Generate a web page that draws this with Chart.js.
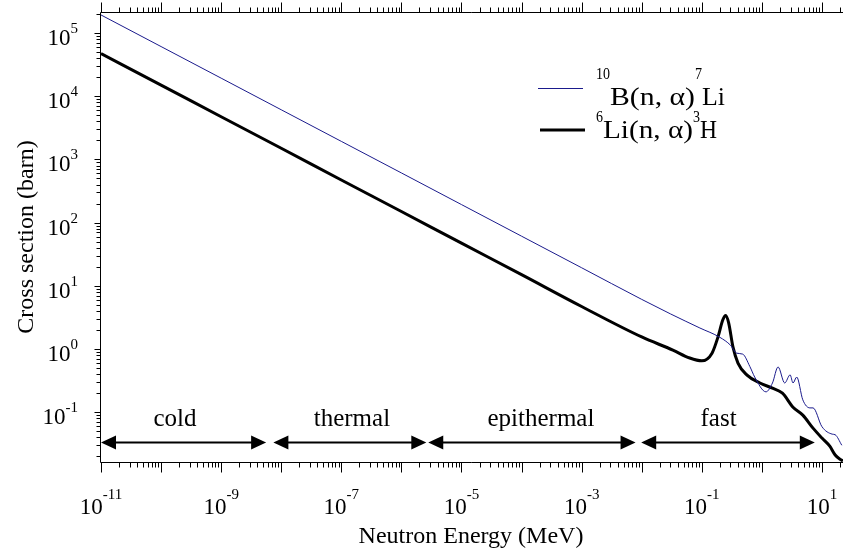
<!DOCTYPE html>
<html>
<head>
<meta charset="utf-8">
<script src="https://cdn.jsdelivr.net/npm/chart.js@4.4.1/dist/chart.umd.min.js"></script>
<style>
  html, body { margin: 0; padding: 0; background: #fff; }
  #wrap { width: 843px; height: 554px; }
</style>
</head>
<body>
<div id="wrap"><canvas id="xsChart" width="843" height="554"></canvas></div>
<script>
// 10B(n,α)7Li の断面積 (MeV, barn)
const boronEnergy = [1e-11, 1e-10, 1e-9, 1e-8, 1e-7, 1e-6, 1e-5, 1e-4, 1e-3, 1e-2, 3e-2,
  0.093, 0.2, 0.3, 0.38, 0.48, 0.63, 0.76, 1.17, 1.5, 1.86, 2.4, 2.95, 3.3, 3.8,
  4.8, 6.3, 7.1, 10, 14.8, 16.6, 21.4];
const boronXS = [1.93e5, 6.1e4, 1.93e4, 6.1e3, 1.93e3, 611, 193, 61, 19.3, 6.1, 3.6,
  2.15, 1.53, 1.15, 0.86, 0.83, 0.53, 0.36, 0.21, 0.29, 0.52, 0.29, 0.39, 0.29, 0.36,
  0.157, 0.117, 0.117, 0.059, 0.045, 0.044, 0.030];

// 6Li(n,α)3H の断面積 (MeV, barn)
const lithiumEnergy = [1e-11, 1e-10, 1e-9, 1e-8, 1e-7, 1e-6, 1e-5, 1e-4, 1e-3, 1e-2,
  0.033, 0.063, 0.1, 0.148, 0.186, 0.224, 0.25, 0.28, 0.33, 0.4, 0.56, 0.93, 1.5,
  2.2, 3.3, 4.8, 7.1, 10, 13.5, 16.6, 20, 22.4];
const lithiumXS = [4.73e4, 1.5e4, 4.73e3, 1.5e3, 473, 150, 47.3, 15, 4.7, 1.55,
  0.96, 0.72, 0.65, 0.86, 1.55, 2.9, 3.4, 2.6, 1.08, 0.6, 0.39, 0.29, 0.24,
  0.2, 0.12, 0.09, 0.056, 0.039, 0.029, 0.021, 0.018, 0.017];

// 軸の目盛りラベル (10 のべき)
const xTickPowers = [-11, -9, -7, -5, -3, -1, 1];
const yTickPowers = [-1, 0, 1, 2, 3, 4, 5];

// エネルギー領域の矢印
const regionNames = ['cold', 'thermal', 'epithermal', 'fast'];
const regionFrom = [1e-11, 7.4e-9, 2.8e-6, 9.8e-3];
const regionTo = [5.6e-9, 2.6e-6, 7.9e-3, 7.6];
const regionLabelAt = [1.7e-10, 1.5e-7, 2.1e-4, 0.19];
const arrowLevel = 0.0336;
const regionLabelLevel = 0.06;

const X_MIN = 1e-11, X_MAX = 22.4;
const Y_MIN = 0.0163, Y_MAX = 2.15e5;

const SERIF = "'Liberation Serif', 'DejaVu Serif', serif";
const BLUE = '#1a1a8c';

// テキストを指定幅に合わせて描画
function drawFit(ctx, text, x, y, size, width) {
  ctx.font = size + 'px ' + SERIF;
  const w = ctx.measureText(text).width;
  ctx.save();
  ctx.translate(x, y);
  if (width) ctx.scale(width / w, 1);
  ctx.fillText(text, 0, 0);
  ctx.restore();
}

function powWidth(ctx, exp) {
  ctx.font = '23px ' + SERIF;
  const w1 = ctx.measureText('10').width;
  ctx.font = '15px ' + SERIF;
  const w2 = ctx.measureText(exp).width;
  return [w1, w2];
}

function drawPow(ctx, exp, left, base, supBase) {
  const [w1] = powWidth(ctx, exp);
  ctx.font = '23px ' + SERIF;
  ctx.fillText('10', left, base);
  ctx.font = '15px ' + SERIF;
  ctx.fillText(exp, left + w1, supBase);
}

function drawArrow(ctx, x1, x2, y) {
  const head = 15, half = 7;
  ctx.lineWidth = 2;
  ctx.beginPath();
  ctx.moveTo(x1 + head - 1, y);
  ctx.lineTo(x2 - head + 1, y);
  ctx.stroke();
  ctx.beginPath();
  ctx.moveTo(x1, y);
  ctx.lineTo(x1 + head, y - half);
  ctx.lineTo(x1 + head, y + half);
  ctx.closePath();
  ctx.fill();
  ctx.beginPath();
  ctx.moveTo(x2, y);
  ctx.lineTo(x2 - head, y - half);
  ctx.lineTo(x2 - head, y + half);
  ctx.closePath();
  ctx.fill();
}

const decorPlugin = {
  id: 'decor',
  afterDraw(chart) {
    const ctx = chart.ctx;
    const xs = chart.scales.x, ys = chart.scales.y;
    const area = chart.chartArea;
    const L = Math.round(area.left) - 0.5;
    const T = Math.round(area.top) + 0.5;
    const B = Math.round(area.bottom) + 0.5;
    ctx.save();
    ctx.strokeStyle = '#000';
    ctx.fillStyle = '#000';
    ctx.lineWidth = 1;

    // 軸線 (左・下・上)
    ctx.beginPath();
    ctx.moveTo(L, T);
    ctx.lineTo(L, B);
    ctx.moveTo(L, B);
    ctx.lineTo(area.right, B);
    ctx.moveTo(L, T);
    ctx.lineTo(area.right, T);
    ctx.stroke();

    // X軸の目盛り (下と上)
    ctx.beginPath();
    for (let d = -11; d <= 1; d++) {
      for (let m = 1; m <= 9; m++) {
        const v = m * Math.pow(10, d);
        if (v > X_MAX) continue;
        const px = Math.round(xs.getPixelForValue(v)) + 0.5;
        const len = m === 1 ? 10 : 5;
        ctx.moveTo(px, B);
        ctx.lineTo(px, B + len);
        ctx.moveTo(px, T);
        ctx.lineTo(px, T - len);
      }
    }
    // Y軸の目盛り
    for (let d = -2; d <= 5; d++) {
      for (let m = 1; m <= 9; m++) {
        const v = m * Math.pow(10, d);
        if (v < Y_MIN || v > Y_MAX) continue;
        const py = Math.round(ys.getPixelForValue(v)) + 0.5;
        const len = m === 1 ? 6 : 4;
        ctx.moveTo(L, py);
        ctx.lineTo(L - len, py);
      }
    }
    ctx.stroke();

    // 目盛りラベル
    ctx.textAlign = 'left';
    ctx.textBaseline = 'alphabetic';
    xTickPowers.forEach(p => {
      const exp = String(p);
      const [w1, w2] = powWidth(ctx, exp);
      const cx = xs.getPixelForValue(Math.pow(10, p));
      drawPow(ctx, exp, cx - (w1 + w2) / 2, B + 51, B + 36);
    });
    yTickPowers.forEach(p => {
      const exp = String(p);
      const [w1, w2] = powWidth(ctx, exp);
      const cy = ys.getPixelForValue(Math.pow(10, p));
      drawPow(ctx, exp, 78 - (w1 + w2), cy + 12, cy);
    });

    // 軸タイトル
    ctx.font = '24px ' + SERIF;
    ctx.textAlign = 'center';
    ctx.fillText('Neutron Energy (MeV)', 471, 543);
    ctx.save();
    ctx.translate(33, (area.top + area.bottom) / 2);
    ctx.rotate(-Math.PI / 2);
    ctx.fillText('Cross section (barn)', 0, 0);
    ctx.restore();

    // エネルギー領域の矢印とラベル
    const ay = Math.round(ys.getPixelForValue(arrowLevel)) + 0.5;
    const ly = ys.getPixelForValue(regionLabelLevel);
    ctx.font = '25px ' + SERIF;
    regionNames.forEach((name, i) => {
      const x1 = xs.getPixelForValue(regionFrom[i]);
      const x2 = xs.getPixelForValue(regionTo[i]);
      drawArrow(ctx, x1, x2, ay);
      ctx.font = '25px ' + SERIF;
      ctx.textAlign = 'center';
      ctx.fillText(name, xs.getPixelForValue(regionLabelAt[i]), ly);
    });

    // 凡例
    ctx.textAlign = 'left';
    ctx.strokeStyle = BLUE;
    ctx.lineWidth = 1;
    ctx.beginPath();
    ctx.moveTo(538, 88.5);
    ctx.lineTo(583, 88.5);
    ctx.stroke();
    ctx.strokeStyle = '#000';
    ctx.lineWidth = 3;
    ctx.beginPath();
    ctx.moveTo(540, 130);
    ctx.lineTo(585, 130);
    ctx.stroke();

    drawFit(ctx, '10', 596, 79, 16, 14);
    drawFit(ctx, 'B(n, \u03b1)', 610, 105, 26, 85);
    drawFit(ctx, '7', 695, 79, 16, 7);
    drawFit(ctx, 'Li', 702, 105, 26, 23);

    drawFit(ctx, '6', 596, 122, 16, 7);
    drawFit(ctx, 'Li(n, \u03b1)', 603, 138, 26, 90);
    drawFit(ctx, '3', 693, 122, 16, 7);
    drawFit(ctx, 'H', 700, 138, 26, 17);

    ctx.restore();
  }
};

const toPoints = (xArr, yArr) => xArr.map((x, i) => ({ x: x, y: yArr[i] }));

new Chart(document.getElementById('xsChart'), {
  type: 'line',
  data: {
    datasets: [{
      label: '10B(n, \u03b1)7Li',
      data: toPoints(boronEnergy, boronXS),
      borderColor: BLUE,
      borderWidth: 1,
      pointRadius: 0,
      fill: false,
      cubicInterpolationMode: 'monotone'
    }, {
      label: '6Li(n, \u03b1)3H',
      data: toPoints(lithiumEnergy, lithiumXS),
      borderColor: '#000',
      borderWidth: 3,
      pointRadius: 0,
      fill: false,
      cubicInterpolationMode: 'monotone'
    }]
  },
  options: {
    responsive: false,
    animation: false,
    layout: { padding: { top: 12, right: 0, left: 0, bottom: 0 } },
    plugins: {
      legend: { display: false },
      tooltip: { enabled: false }
    },
    scales: {
      x: {
        type: 'logarithmic',
        min: X_MIN,
        max: X_MAX,
        ticks: { display: false },
        grid: { display: false },
        border: { display: false },
        afterFit: s => { s.height = 92; }
      },
      y: {
        type: 'logarithmic',
        min: Y_MIN,
        max: Y_MAX,
        ticks: { display: false },
        grid: { display: false },
        border: { display: false },
        afterFit: s => { s.width = 101; }
      }
    }
  },
  plugins: [decorPlugin]
});
</script>
</body>
</html>
